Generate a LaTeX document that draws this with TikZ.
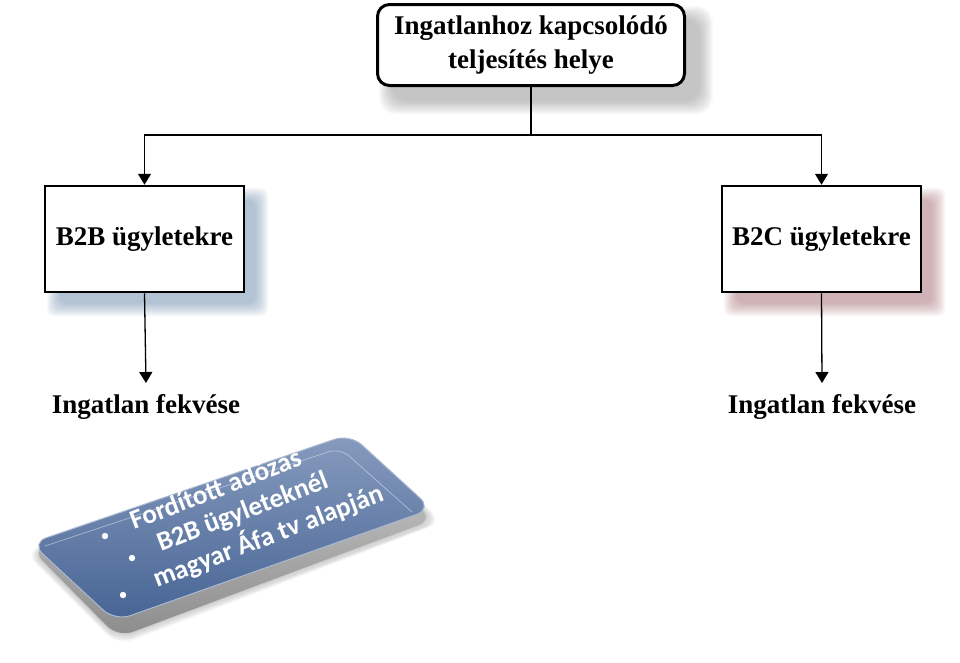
\documentclass[tikz,border=0pt]{standalone}
\usepackage{fontspec}
\setmainfont{Liberation Serif}
\newfontfamily\calib{Carlito}
\usetikzlibrary{arrows.meta,calc,backgrounds}
\definecolor{shgray}{RGB}{120,120,120}
\definecolor{shblue}{RGB}{110,140,170}
\definecolor{shred}{RGB}{165,110,115}
\definecolor{facetop}{RGB}{135,155,190}
\definecolor{facebot}{RGB}{70,100,148}
\definecolor{sidetop}{RGB}{205,205,205}
\definecolor{sidebot}{RGB}{140,140,140}
\begin{document}
\begin{tikzpicture}[x=1pt,y=-1pt,
  boxtext/.style={font=\bfseries\fontsize{27}{34}\selectfont, align=center},
  topbox/.style={boxtext, draw=black, line width=3pt, fill=white, rounded corners=12pt,
     minimum width=307pt, minimum height=81pt, inner sep=0pt},
  sqbox/.style={boxtext, draw=black, line width=2.5pt, fill=white,
     minimum width=199pt, minimum height=106pt, inner sep=0pt},
  conn/.style={line width=1.3pt, draw=black},
  arr/.style={conn, -{Triangle[width=13pt,length=11pt]}},
  leaf/.style={font=\bfseries\fontsize{27}{30}\selectfont, inner sep=0pt},
  tilt/.style={rotate=21, anchor=base west, text=white,
     font=\calib\bfseries\fontsize{27}{27}\selectfont, inner sep=0pt}
]
\useasboundingbox (0,0) rectangle (960,662);

% nodes
\node[topbox] (top) at (531,45) {\rule{0pt}{10pt}Ingatlanhoz kapcsolódó\\teljesítés helye};
\node[sqbox] (b2b) at (144.5,239) {\raisebox{-3pt}{B2B ügyletekre}};
\node[sqbox] (b2c) at (821.5,239) {\raisebox{-3pt}{B2C ügyletekre}};
\node[leaf] (l1) at (146,407) {Ingatlan fekvése};
\node[leaf] (l2) at (822,407) {Ingatlan fekvése};
\coordinate (j) at (531,135);
\coordinate (a1) at (146,383);
\coordinate (a2) at (822,383);

% shadows
\begin{scope}[on background layer]
  \foreach \i in {0,...,13}{
    \fill[shgray, opacity=0.04, rounded corners=16pt]
      ($(top.north west)+(16-\i,16-\i)$) rectangle ($(top.south east)+(14+\i,14+\i)$);
    \fill[shblue, opacity=0.05, rounded corners=8pt]
      ($(b2b.north west)+(16-\i,16-\i)$) rectangle ($(b2b.south east)+(10+\i,10+\i)$);
    \fill[shred, opacity=0.05, rounded corners=8pt]
      ($(b2c.north west)+(16-\i,16-\i)$) rectangle ($(b2c.south east)+(10+\i,10+\i)$);
  }
\end{scope}

% connectors
\draw[conn] (top.south) -- (j);
\draw[arr] (j) -| (b2b.north);
\draw[arr] (j) -| (b2c.north);
\draw[arr] (b2b.south) -- (a1);
\draw[arr] (b2c.south) -- (a2);

% tilted 3D plate
\foreach \i in {0,...,6}{
  \fill[gray, opacity=0.05, rounded corners=16pt]
    (30-\i,552) -- (352,442-\i) -- (437+\i,522) -- (118,640+\i) -- cycle;
}
\shade[top color=sidetop, bottom color=sidebot, rounded corners=16pt, draw=sidetop, line width=1pt]
  (31,550) -- (350,441) -- (434,520) -- (118,638) -- cycle;
\shade[top color=facetop, bottom color=facebot, rounded corners=16pt, draw=facetop!70!white, line width=1pt]
  (31,543) -- (350,434) -- (432,509) -- (115,621) -- cycle;
\draw[white, opacity=0.4, line width=0.8pt, rounded corners=12pt]
  (45,546) -- (340,448) -- (412,512);

\fill[white] (105,536) circle (3.2pt);
\fill[white] (132,558) circle (3.2pt);
\fill[white] (123,595) circle (3.2pt);
\node[tilt] (t1) at (134,530) {Fordított adózás};
\node[tilt] (t2) at (161,552) {B2B ügyleteknél};
\node[tilt] (t3) at (157,588) {magyar Áfa tv alapján};
\end{tikzpicture}
\end{document}
